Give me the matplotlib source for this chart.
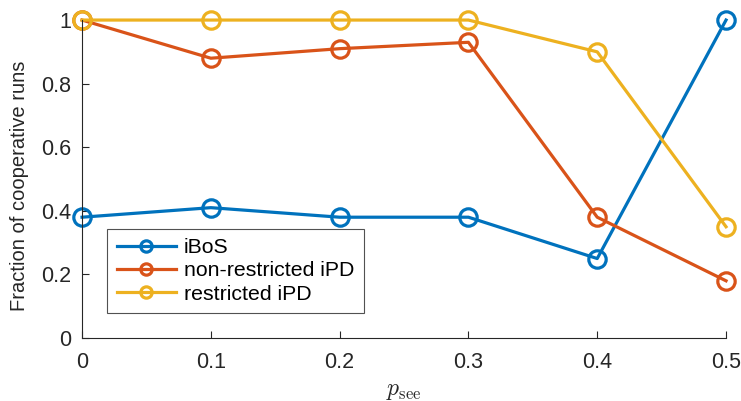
import numpy as np
import matplotlib.pyplot as plt

plt.rcParams['font.family'] = ['Liberation Sans', 'DejaVu Sans']
plt.rcParams['mathtext.fontset'] = 'cm'

# data
p_see = [0, 0.1, 0.2, 0.3, 0.4, 0.5]
iBoS = [0.38, 0.41, 0.38, 0.38, 0.25, 1.0]
non_restricted = [1.0, 0.88, 0.91, 0.93, 0.38, 0.18]
restricted = [1.0, 1.0, 1.0, 1.0, 0.90, 0.35]

fig = plt.figure(figsize=(7.41, 4.01), dpi=100)
ax = fig.add_axes([0.1107, 0.157, 0.8691, 0.793])

style = dict(marker='o', markersize=12.5, markerfacecolor='none',
             markeredgewidth=2.3, linewidth=2.3, clip_on=False)
ax.plot(p_see, iBoS, color='#0072BD', label='iBoS', **style)
ax.plot(p_see, non_restricted, color='#D95319', label='non-restricted iPD', **style)
ax.plot(p_see, restricted, color='#EDB120', label='restricted iPD', **style)

ax.set_xlim(0, 0.5)
ax.set_ylim(0, 1)
ax.set_xticks([0, 0.1, 0.2, 0.3, 0.4, 0.5])
ax.set_xticklabels(['0', '0.1', '0.2', '0.3', '0.4', '0.5'])
ax.set_yticks([0, 0.2, 0.4, 0.6, 0.8, 1])
ax.set_yticklabels(['0', '0.2', '0.4', '0.6', '0.8', '1'])
ax.tick_params(direction='in', length=5, width=0.8, labelsize=15.5,
               colors='#262626')
ax.tick_params(axis='x', pad=10)
ax.tick_params(axis='y', pad=8)
for side in ['top', 'right']:
    ax.spines[side].set_visible(False)
for side in ['left', 'bottom']:
    ax.spines[side].set_color('#262626')
    ax.spines[side].set_linewidth(0.8)

ax.set_xlabel(r'$p_{\mathrm{see}}$', fontsize=17, color='#262626', labelpad=5)
ax.set_ylabel('Fraction of cooperative runs', fontsize=14.5, color='#262626')
ax.yaxis.set_label_coords(-0.082, 0.48)

leg = ax.legend(loc='lower left', bbox_to_anchor=(0.039, 0.078), fontsize=15.3,
                fancybox=False, edgecolor='#262626', handlelength=2.8,
                borderpad=0.45, labelspacing=0.2, handletextpad=0.35,
                borderaxespad=0, markerscale=0.65)
leg.get_frame().set_linewidth(0.8)

fig.savefig('out.png', dpi=100)
